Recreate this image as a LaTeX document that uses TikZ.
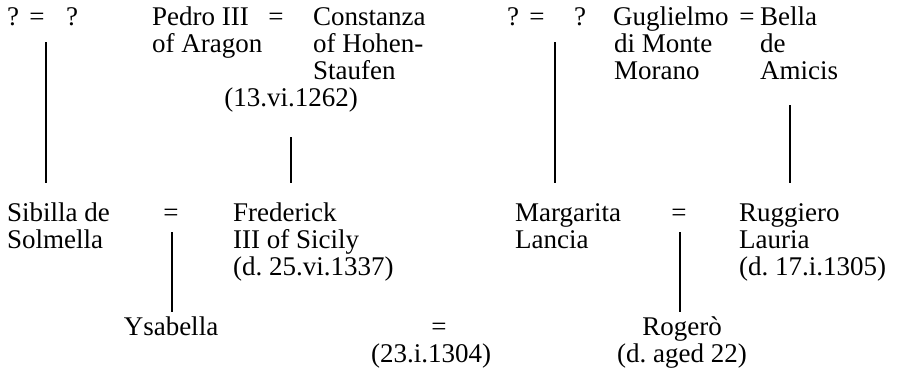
\documentclass[tikz,border=0pt]{standalone}
\usepackage{fontspec}
\setmainfont{Liberation Serif}
\frenchspacing
\begin{document}
\begin{tikzpicture}[x=1pt,y=-1pt]
\tikzset{
  t/.style={inner sep=0pt, anchor=base west, font=\fontsize{27}{27}\selectfont},
  tc/.style={t, anchor=base},
  ln/.style={line width=1.2pt}
}
\useasboundingbox (0,0) rectangle (901,384);
% top left
\node[tc] (q1) at (13,25) {?};
\node[tc] (e1) at (37,25) {=};
\node[tc] (q2) at (72,25) {?};
\node[t] (pedro1) at (152,25) {Pedro III};
\node[t] (pedro2) at (152,52) {of Aragon};
\node[tc] (e2) at (276,25) {=};
\node[t] (con1) at (313,25) {Constanza};
\node[t] (con2) at (313,52) {of Hohen-};
\node[t] (con3) at (313,79) {Staufen};
\node[tc] (m1) at (291,106) {(13.vi.1262)};
% top right
\node[tc] (q3) at (513,25) {?};
\node[tc] (e3) at (537,25) {=};
\node[tc] (q4) at (580,25) {?};
\node[t] (gug1) at (613,25) {Guglielmo};
\node[t] (gug2) at (614,52) {di Monte};
\node[t] (gug3) at (614,79) {Morano};
\node[tc] (e4) at (747,25) {=};
\node[t] (bel1) at (760,25) {Bella};
\node[t] (bel2) at (760,52) {de};
\node[t] (bel3) at (760,79) {Amicis};
% middle left
\node[t] (sib1) at (7,221) {Sibilla de};
\node[t] (sib2) at (7,248) {Solmella};
\node[tc] (e5) at (171,221) {=};
\node[t] (fre1) at (233,221) {Frederick};
\node[t] (fre2) at (233,248) {III of Sicily};
\node[t] (fre3) at (233,275) {(d. 25.vi.1337)};
% middle right
\node[t] (mar1) at (515,221) {Margarita};
\node[t] (mar2) at (515,248) {Lancia};
\node[tc] (e6) at (679,221) {=};
\node[t] (rug1) at (739,221) {Ruggiero};
\node[t] (rug2) at (739,248) {Lauria};
\node[t] (rug3) at (739,275) {(d. 17.i.1305)};
% bottom
\node[tc] (ysa) at (171,335) {Ysabella};
\node[tc] (e7) at (439,335) {=};
\node[tc] (m2) at (431,362) {(23.i.1304)};
\node[tc] (rog1) at (682,335) {Roger\`o};
\node[tc] (rog2) at (682,362) {(d. aged 22)};
% line ends
\coordinate (l1t) at (46,42);  \coordinate (l1b) at (46,183);
\coordinate (l2t) at (291,137); \coordinate (l2b) at (291,183);
\coordinate (l3t) at (555,42); \coordinate (l3b) at (555,183);
\coordinate (l4t) at (790,105); \coordinate (l4b) at (790,183);
\coordinate (l5t) at (172,232); \coordinate (l5b) at (172,312);
\coordinate (l6t) at (680,232); \coordinate (l6b) at (680,312);
\draw[ln] (l1t) -- (l1b);
\draw[ln] (l2t) -- (l2b);
\draw[ln] (l3t) -- (l3b);
\draw[ln] (l4t) -- (l4b);
\draw[ln] (l5t) -- (l5b);
\draw[ln] (l6t) -- (l6b);
\end{tikzpicture}
\end{document}
